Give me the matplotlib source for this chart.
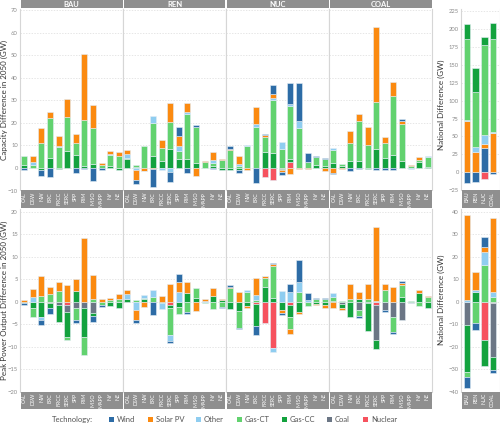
import numpy as np
import matplotlib.pyplot as plt
from matplotlib.patches import Rectangle

plt.rcParams["font.family"] = ["Lato", "DejaVu Sans"]

regions = ["CAL", "DSW", "NW", "ERC", "FRCC", "SERC", "SPP", "PJM", "MISO", "MAPP", "NY", "NE"]
scenarios = ["BAU", "REN", "NUC", "COAL"]
techs = ["Wind", "Solar PV", "Other", "Gas-CT", "Gas-CC", "Coal", "Nuclear"]
tech_colors = ["#2d6ca6", "#fb8a10", "#8fcdf0", "#62d26f", "#13a23e", "#6b7685", "#f6525e"]

# capacity difference in 2050 (GW), by region
cap_bau = {
    "Wind":     [-0.8, 0, -2.8, -4.0, 0, 0, -2.2, -0.5, -5.9, -0.8, 0, 0],
    "Solar PV": [0, 2.8, 6.9, 2.3, 4.3, 7.8, 4.0, 29.3, 10.2, 1.2, 1.4, 1.8],
    "Other":    [0, 1.5, 0, 0, 0.3, 0, 0, 0, 0, 0, 0.3, 0],
    "Gas-CT":   [3.8, 1.2, 11.0, 17.8, 9.5, 15.1, 5.6, 20.4, 16.3, 1.2, 4.8, 5.3],
    "Gas-CC":   [1.5, 0, -0.7, 4.6, -0.3, 7.6, 5.6, 0.8, 1.6, 0, 0.9, -1.0],
}
cap_ren = {
    "Wind":     [0, -1.8, -0.3, -7.8, 0, -4.8, 4.0, -2.4, 0.7, 0, -0.5, 0],
    "Solar PV": [1.6, -4.2, -1.2, -0.5, 3.3, 8.6, 4.6, 4.1, -3.6, 0.5, 3.6, 0.5],
    "Other":    [1.6, -1.0, 0, 3.1, -0.8, -1.6, 2.2, 0.8, 0, 0, 1.2, 0],
    "Gas-CT":   [0.8, 1.2, 9.7, 14.7, 5.8, 12.1, 3.4, 20.0, 16.0, 2.7, 1.2, 3.7],
    "Gas-CC":   [3.8, 0.3, 0, 5.3, 3.2, 8.3, 4.0, 4.1, 2.2, 0, 1.0, -1.0],
}
cap_nuc = {
    "Wind":     [1.3, -1.2, 0, -6.8, 0.7, 4.3, -1.5, 9.2, 16.9, 4.2, 0.6, 0.7],
    "Solar PV": [0.4, 3.5, -1.0, 7.4, 0.7, 1.6, -1.0, -2.5, -0.5, -0.4, 0, -1.3],
    "Other":    [0, 1.0, 0.7, 1.5, 0, 1.0, 3.0, 1.2, 3.0, 0, 0, 0],
    "Gas-CT":   [8.0, 0.9, 9.7, 18.2, 6.7, 23.3, 8.4, 23.2, 17.9, 2.5, 3.3, 3.0],
    "Gas-CC":   [-0.8, -1.0, 0, 0, 7.1, 6.8, -0.5, 1.5, 0, 0, 1.5, 0.9],
    "Nuclear":  [0, 0, 0, 0, -4.0, -5.5, -0.3, 2.7, 0, 0, 0, 0],
}
cap_coal = {
    "Wind":     [-0.4, 0, -1.5, -0.5, 0, -1.0, -1.0, -0.8, 0.7, 0, 0, 0],
    "Solar PV": [-2.1, -0.6, 5.1, 2.9, 7.9, 33.4, 2.8, 6.2, 1.2, 0.3, 1.3, 0],
    "Other":    [0.8, 0, 0, 0, 0, 0, 0, 0, 0, -0.5, 0, 0.5],
    "Gas-CT":   [6.0, 0.8, 8.2, 17.8, 10.1, 20.7, 6.5, 26.4, 16.6, 1.0, 1.2, 4.3],
    "Gas-CC":   [2.1, 1.0, 3.0, 3.1, -0.5, 8.6, 4.5, 5.6, 3.1, 0, 2.5, 0.4],
}

# peak power output difference in 2050 (GW), by region
peak_bau = {
    "Wind":     [-0.3, 0, -1.0, -1.2, 0, 0, -0.6, 0, -1.4, -0.4, 0, 0],
    "Solar PV": [0.4, 1.7, 4.5, 1.6, 1.9, 3.7, 2.6, 14.1, 5.3, 0.7, 0.5, 0.9],
    "Other":    [0, 1.1, -0.8, 0, 0, 0, 0, 0, 0, 0, 0, 0],
    "Gas-CT":   [-0.4, -1.8, 1.3, 1.7, 2.4, -0.7, -2.6, -4.1, 0.6, -0.7, 0.4, 0.7],
    "Gas-CC":   [0, -1.5, -3.3, -1.3, -3.9, -5.6, 2.4, -6.3, -0.6, 0, -0.9, -1.5],
    "Coal":     [0, 0, 0, 0, -0.7, -1.5, -1.5, -1.5, -2.6, 0, 0, 0],
    "Nuclear":  [0, 0, 0, -0.2, 0, -0.7, 0, 0, 0, 0, 0, 0],
}
peak_ren = {
    "Wind":     [0, -0.7, 0, -2.9, 0, -0.4, 1.7, -0.4, 0, 0, 0, -0.2],
    "Solar PV": [1.0, -2.2, -1.2, 0, 1.3, 3.9, 2.2, 2.3, -2.1, 0.3, 1.9, 0.2],
    "Other":    [1.2, -1.9, 0.6, 1.5, -1.3, -1.3, 2.2, 0, 0, 0.2, 0, 0],
    "Gas-CT":   [0, 0.3, 0.4, 1.1, 0, -6.1, -1.6, -2.4, 2.1, -0.3, -1.7, -1.2],
    "Gas-CC":   [0.5, 0, 0.5, 0, -0.4, -0.6, -1.2, 2.0, 0.9, 0, 1.2, 0.4],
    "Nuclear":  [0, 0, 0, 0, 0, -0.7, 0, 0, 0, 0, 0, 0],
}
peak_nuc = {
    "Wind":     [0.3, -0.2, 0, -2.1, 0.2, 0.4, -0.4, 1.7, 4.9, 1.5, 0.4, 0.3],
    "Solar PV": [0.3, 2.1, -0.4, 3.9, 0.3, 0.3, -0.7, -1.2, -0.3, 0, -0.3, -0.5],
    "Other":    [0, 0, 0.4, 1.0, 0, -0.7, 2.4, 2.2, 2.3, 0.4, 0, 0],
    "Gas-CT":   [3.0, -3.9, 2.2, 0.4, 2.0, 7.1, 0, -2.7, 2.1, -0.9, 0.5, 0.6],
    "Gas-CC":   [-1.7, -2.0, -1.0, -4.7, 3.3, 0.9, -1.9, -2.6, -2.4, 0, -0.5, -0.8],
    "Nuclear":  [0, 0, 0, -0.6, -4.7, -10.4, 0, -0.7, 0, 0, 0, 0],
}
peak_coal = {
    "Wind":     [0, 0, 0, -0.5, 0, 0, -0.5, -0.3, 0.4, -0.2, 0, 0],
    "Solar PV": [-1.5, -0.5, 3.4, 1.7, 3.4, 16.4, 1.3, 3.2, 0.4, 0, 0.6, 0.3],
    "Other":    [0.9, 0, 0, 0, 0, 0.2, 0, 0, 0, 0, 0, 0],
    "Gas-CT":   [0.9, 0.2, 0.5, -1.3, 0.5, 0, 2.6, -3.3, 2.6, 0.2, -1.0, 1.0],
    "Gas-CC":   [0.2, -0.8, -3.4, 0.5, -6.3, -2.1, 0, 0, 1.1, 0, 1.9, -1.3],
    "Coal":     [0, -0.5, 0, -1.9, -0.3, -7.8, -1.9, -3.5, -4.1, -0.2, 0, 0],
    "Nuclear":  [0, 0, 0, 0, 0, -0.7, 0, 0, 0, 0, 0, 0],
}

# national totals, one value per scenario (BAU, REN, NUC, COAL)
nat_cap = {
    "Wind":     [-14.5, -13.0, 34.0, -2.4],
    "Solar PV": [72.0, 29.0, 6.0, 55.0],
    "Other":    [1.5, 6.5, 12.0, 1.5],
    "Gas-CT":   [112.6, 76.0, 125.0, 128.7],
    "Gas-CC":   [20.9, 33.4, 11.0, 23.2],
    "Nuclear":  [0, 0, -9.0, 0],
}
nat_peak = {
    "Wind":     [-5.2, -2.8, 4.2, -1.4],
    "Solar PV": [37.8, 8.3, 2.2, 32.6],
    "Other":    [0.7, 0.7, 5.9, 2.5],
    "Gas-CT":   [-2.2, -9.6, 16.3, 1.9],
    "Gas-CC":   [-20.7, 4.3, -11.6, -6.0],
    "Coal":     [-10.4, 0, 0, -24.0],
    "Nuclear":  [0, 0, -17.0, -0.4],
}

W, H = 500, 423
STRIP = "#8f8f8f"
GRID = "#dcdcdc"
TICK = "#8a8a8a"
fig = plt.figure(figsize=(W / 100, H / 100), dpi=100)


def frame(x0, y0, x1, y1):
    # axes from a pixel box, top-left origin
    return fig.add_axes([x0 / W, 1 - y1 / H, (x1 - x0) / W, (y1 - y0) / H])


def draw_stack(ax, data, order, width):
    n = len(next(iter(data.values())))
    x = np.arange(n)
    pos = np.zeros(n)
    neg = np.zeros(n)
    for tech in order:
        vals = np.asarray(data.get(tech, np.zeros(n)), dtype=float)
        base = np.where(vals >= 0, pos, neg)
        keep = vals != 0
        ax.bar(x[keep], vals[keep], width, bottom=base[keep],
               color=tech_colors[techs.index(tech)], edgecolor="#e4edf5", linewidth=0.4, zorder=3)
        pos += np.clip(vals, 0, None)
        neg += np.clip(vals, None, 0)


def style_panel(ax, ylim, ticks, show_labels):
    ax.set_ylim(*ylim)
    ax.set_yticks(ticks)
    ax.set_xticks([])
    ax.yaxis.grid(True, linestyle=(0, (2, 2)), color=GRID, linewidth=0.5, zorder=0)
    ax.tick_params(axis="y", length=0, pad=1.5, labelsize=4.2, labelcolor=TICK, labelleft=show_labels)
    for side in ["top", "bottom"]:
        ax.spines[side].set_visible(False)
    for side in ["left", "right"]:
        ax.spines[side].set_color("#d6d6d6")
        ax.spines[side].set_linewidth(0.8)


def label_strip(x0, x1, y0, y1, labels, xlim):
    s = frame(x0 + 0.5, y0, x1 - 0.5, y1)
    s.set_facecolor(STRIP)
    s.set_xlim(*xlim)
    s.set_ylim(0, 1)
    s.set_xticks([])
    s.set_yticks([])
    for sp in s.spines.values():
        sp.set_visible(False)
    for i, lab in enumerate(labels):
        s.text(i, 0.93, lab, rotation=90, ha="center", va="top", color="white", fontsize=3.8)


order_regional = ["Nuclear", "Coal", "Gas-CC", "Gas-CT", "Other", "Solar PV", "Wind"]
order_national = ["Wind", "Solar PV", "Other", "Gas-CT", "Gas-CC", "Coal", "Nuclear"]

panel_x = [(20, 123), (123, 226), (226, 329), (329, 432)]
top_row, bot_row = (9.5, 190.5), (208.5, 391.7)
xlim_reg = (-0.5, len(regions) - 0.5)

cap_sets = [cap_bau, cap_ren, cap_nuc, cap_coal]
peak_sets = [peak_bau, peak_ren, peak_nuc, peak_coal]

for k, (x0, x1) in enumerate(panel_x):
    # scenario header
    hd = frame(x0 + 0.5, 0, x1 - 0.5, 8.5)
    hd.set_facecolor(STRIP)
    hd.set_xticks([])
    hd.set_yticks([])
    for sp in hd.spines.values():
        sp.set_visible(False)
    hd.text(0.5, 0.5, scenarios[k], ha="center", va="center", color="white",
            fontsize=5.5, fontweight="bold", transform=hd.transAxes)

    ax = frame(x0, top_row[0], x1, top_row[1])
    draw_stack(ax, cap_sets[k], order_regional, 0.7)
    ax.set_xlim(*xlim_reg)
    style_panel(ax, (-10, 70.4), np.arange(-10, 71, 10), k == 0)

    ax2 = frame(x0, bot_row[0], x1, bot_row[1])
    draw_stack(ax2, peak_sets[k], order_regional, 0.7)
    ax2.set_xlim(*xlim_reg)
    style_panel(ax2, (-20, 20.7), np.arange(-20, 21, 5), k == 0)

    label_strip(x0, x1, top_row[1], bot_row[0], regions, xlim_reg)
    label_strip(x0, x1, bot_row[1], 409, regions, xlim_reg)

# national panels
nx0, nx1 = 461, 500
xlim_nat = (-0.7, 3.8)
axn = frame(nx0, top_row[0], nx1, top_row[1])
draw_stack(axn, nat_cap, order_national, 0.75)
axn.set_xlim(*xlim_nat)
style_panel(axn, (-25.3, 227), np.arange(-25, 226, 25), True)

axn2 = frame(nx0, bot_row[0], nx1, bot_row[1])
draw_stack(axn2, nat_peak, order_regional, 0.75)
axn2.set_xlim(*xlim_nat)
style_panel(axn2, (-40, 41.4), np.arange(-40, 41, 10), True)

label_strip(nx0, nx1, top_row[1], bot_row[0], scenarios, xlim_nat)
label_strip(nx0, nx1, bot_row[1], 409, scenarios, xlim_nat)

# axis titles
title_kw = dict(rotation=90, ha="center", va="center", fontsize=5.8, color="#333333")
fig.text(4.5 / W, 1 - 100 / H, "Capacity Difference in 2050 (GW)", **title_kw)
fig.text(4.5 / W, 1 - 300 / H, "Peak Power Output Difference in 2050 (GW)", **title_kw)
fig.text(441 / W, 1 - 105 / H, "National Difference (GW)", **title_kw)
fig.text(441 / W, 1 - 300 / H, "National Difference (GW)", **title_kw)

# legend
fig.text(93 / W, 1 - 419 / H, "Technology:", ha="right", va="center", fontsize=5.5, color="#555555")
sq_x = [109, 148, 196, 237, 282, 327, 363]
for tech, col, sx in zip(techs, tech_colors, sq_x):
    fig.add_artist(Rectangle((sx / W, 1 - 421.5 / H), 4.5 / W, 4.5 / H,
                             transform=fig.transFigure, facecolor=col, edgecolor="none"))
    fig.text((sx + 8) / W, 1 - 419 / H, tech, ha="left", va="center", fontsize=5.5, color="#555555")

fig.savefig("out.png", dpi=100)
